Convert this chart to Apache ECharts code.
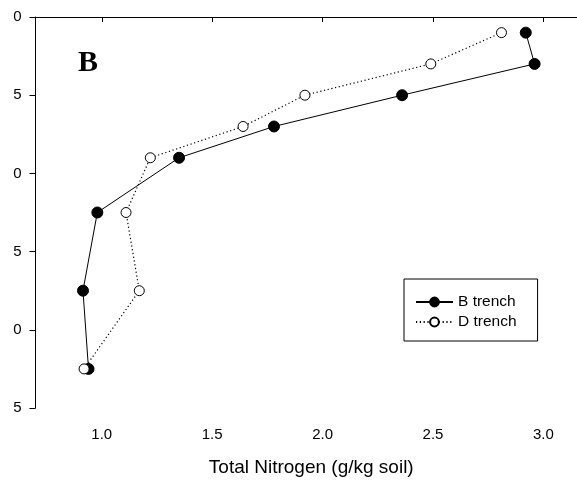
<!DOCTYPE html>
<html>
<head>
<meta charset="utf-8">
<script src="https://cdn.jsdelivr.net/npm/echarts@6/dist/echarts.min.js"></script>
<style>
html,body{margin:0;padding:0;background:#fff;overflow:hidden;}
#c{width:577px;height:482px;}
</style>
</head>
<body>
<div id="c"></div>
<script>
// Depth (y, downward) and total nitrogen (x)
var depthB = [5, 15, 25, 35, 45, 62.5, 87.5, 112.5];
var nitrogenB = [2.92, 2.96, 2.36, 1.78, 1.35, 0.98, 0.915, 0.94];
var depthD = [5, 15, 25, 35, 45, 62.5, 87.5, 112.5];
var nitrogenD = [2.81, 2.49, 1.92, 1.64, 1.22, 1.11, 1.17, 0.92];
var seriesNames = ['B trench', 'D trench'];
var xTicks = [1.0, 1.5, 2.0, 2.5, 3.0];
var yTickValues = [0, 25, 50, 75, 100, 125];
var yTickLabels = ['0', '5', '0', '5', '0', '5'];
var panelLabel = 'B';
var xTitle = 'Total Nitrogen (g/kg soil)';

function pairs(xs, ys){ return xs.map(function(x,i){ return [x, ys[i]]; }); }

var font = 'Liberation Sans, Arial, Helvetica, sans-serif';
var chart = echarts.init(document.getElementById('c'), null, {renderer:'canvas'});
chart.setOption({
  animation: false,
  backgroundColor: '#fff',
  grid: {left: 35.5, right: 0, top: 17, bottom: 67, containLabel: false},
  graphic: [{
    type: 'text', left: 78, top: 48,
    style: {text: panelLabel, font: 'bold 30px "Liberation Serif", "Times New Roman", serif', fill: '#000'}
  }],
  legend: {
    orient: 'vertical', left: 404, top: 279,
    padding: [15, 21, 11, 11],
    borderColor: '#000', borderWidth: 1,
    itemWidth: 37, itemHeight: 11, itemGap: 4,
    textStyle: {fontFamily: font, fontSize: 15.5, color: '#000'},
    data: seriesNames
  },
  xAxis: [{
    type: 'value', min: 0.7, max: 3.152,
    name: xTitle, nameLocation: 'middle', nameGap: 50,
    nameTextStyle: {fontFamily: font, fontSize: 19, color: '#000', padding: [0, 0, 0, 10]},
    axisLine: {show: true, lineStyle: {color: '#000', width: 1}},
    axisTick: {show: true, length: 5, inside: false, customValues: xTicks, lineStyle: {color: '#000'}},
    axisLabel: {show: true, margin: 19, fontFamily: font, fontSize: 15, color: '#000', customValues: xTicks,
      formatter: function(v){ return v.toFixed(1); }},
    splitLine: {show: false}
  }, {
    type: 'value', position: 'top', min: 0.7, max: 3.152,
    axisLine: {show: true, onZero: false, lineStyle: {color: '#000', width: 1}},
    axisTick: {show: false, length: 0},
    minorTick: {show: false},
    axisLabel: {show: false},
    splitLine: {show: false},
    silent: true
  }],
  yAxis: {
    type: 'value', inverse: true, min: 0, max: 125, interval: 25,
    axisLine: {show: true, lineStyle: {color: '#000', width: 1}},
    axisTick: {show: true, length: 6, inside: false, lineStyle: {color: '#000'}},
    axisLabel: {show: true, margin: 14, fontFamily: font, fontSize: 15, color: '#000',
      formatter: function(v){ var i = yTickValues.indexOf(v); return i >= 0 ? yTickLabels[i] : ''; }},
    splitLine: {show: false}
  },
  series: [{
    name: seriesNames[0], type: 'line', xAxisIndex: 0,
    data: pairs(nitrogenB, depthB),
    symbol: 'circle', symbolSize: 11,
    itemStyle: {color: '#000', borderColor: '#000', borderWidth: 1},
    lineStyle: {color: '#000', width: 1, type: 'solid'}
  }, {
    name: seriesNames[1], type: 'line', xAxisIndex: 0,
    data: pairs(nitrogenD, depthD),
    symbol: 'circle', symbolSize: 10,
    itemStyle: {color: '#fff', borderColor: '#000', borderWidth: 1},
    lineStyle: {color: '#000', width: 1.2, type: [1.2, 2.6]}
  }]
});
</script>
</body>
</html>
